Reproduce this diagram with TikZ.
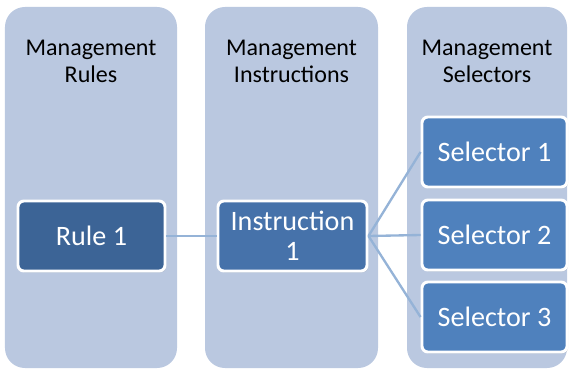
\documentclass[tikz,border=0pt]{standalone}
\usepackage{fontspec}
\setmainfont{Carlito}
\usetikzlibrary{shadows}
\definecolor{colfill}{HTML}{BAC8E0}
\definecolor{rulefill}{HTML}{3C6496}
\definecolor{instrfill}{HTML}{4672AA}
\definecolor{selfill}{HTML}{4F81BD}
\definecolor{linkblue}{HTML}{95B3D7}

\begin{document}
\begin{tikzpicture}[x=0.03cm, y=-0.03cm,
  column/.style={fill=colfill, rounded corners=17pt, minimum height=10.83cm},
  head/.style={font=\fontsize{20.5}{23}\selectfont, align=center},
  item/.style={draw=white, line width=2.5pt, rounded corners=5pt, minimum height=2.1cm, text=white, font=\fontsize{24}{25.5}\selectfont, align=center, drop shadow={opacity=0.3, shadow xshift=1pt, shadow yshift=-1.2pt}},
  link/.style={draw=linkblue, line width=2pt}]
\useasboundingbox (0,0) rectangle (573,368);
\node[column, minimum width=5.16cm] (c1) at (91,187.5) {};
\node[column, minimum width=5.19cm] (c2) at (291.5,187.5) {};
\node[column, minimum width=4.8cm] (c3) at (487,187.5) {};
\node[head] (h1) at (91,61) {Management\\Rules};
\node[head] (h2) at (291.5,61) {Management\\Instructions};
\node[head] (h3) at (487,61) {Management\\Selectors};
\node[item, fill=rulefill, minimum width=4.41cm] (rule1) at (91.5,236) {Rule 1};
\node[item, fill=instrfill, minimum width=4.47cm] (instr1) at (292.5,236) {Instruction\\1};
\node[item, fill=selfill, minimum width=4.35cm] (sel1) at (494.5,152) {Selector 1};
\node[item, fill=selfill, minimum width=4.35cm] (sel2) at (494.5,235) {Selector 2};
\node[item, fill=selfill, minimum width=4.35cm] (sel3) at (494.5,317) {Selector 3};
\draw[link] (rule1.east) -- (instr1.west);
\foreach \s in {sel1,sel2,sel3} \draw[link] (instr1.east) -- (\s.west);
\end{tikzpicture}
\end{document}
